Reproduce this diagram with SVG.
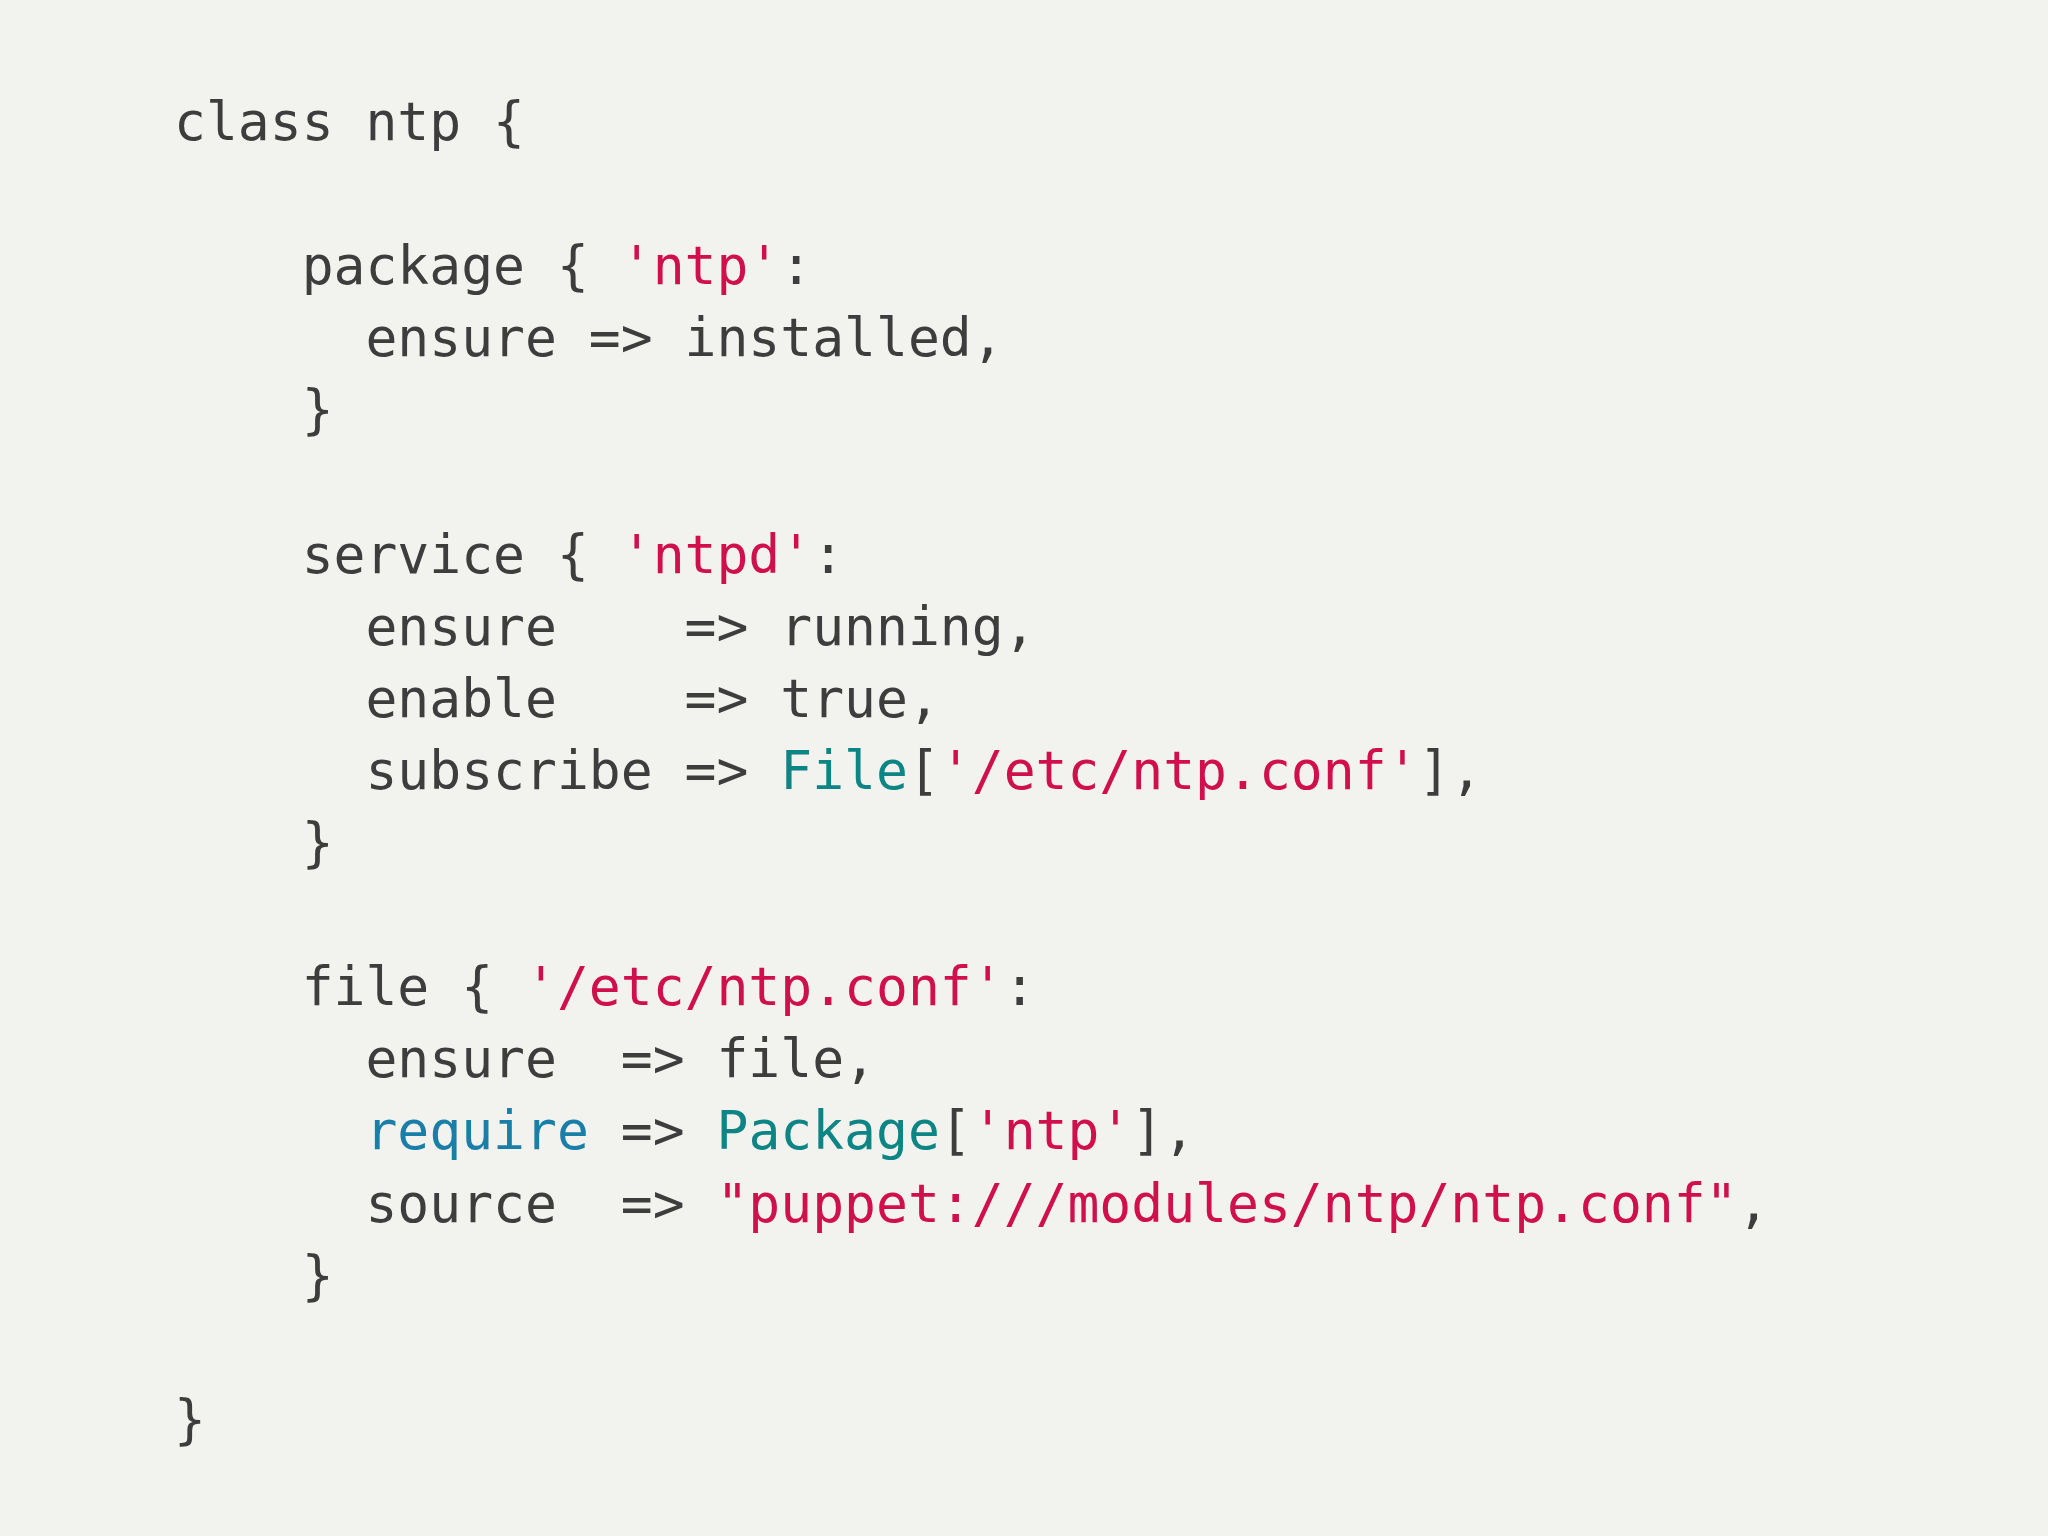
<svg xmlns="http://www.w3.org/2000/svg" width="2048" height="1536" viewBox="0 0 2048 1536">
<style>
text{font-family:"DejaVu Sans Mono","Liberation Mono",monospace;font-size:53px;fill:#3d3d3d;white-space:pre}
.s{fill:#d0104c}.t{fill:#0e8585}.b{fill:#1a7fa8}
</style>
<rect width="2048" height="1536" fill="#f2f2ee"/>
<g id="code">
<text x="174" y="140">class ntp {</text>
<text x="174" y="284">    package { <tspan class="s">'ntp'</tspan>:</text>
<text x="174" y="356">      ensure =&gt; installed,</text>
<text x="174" y="428">    }</text>
<text x="174" y="573">    service { <tspan class="s">'ntpd'</tspan>:</text>
<text x="174" y="645">      ensure    =&gt; running,</text>
<text x="174" y="717">      enable    =&gt; true,</text>
<text x="174" y="789">      subscribe =&gt; <tspan class="t">File</tspan>[<tspan class="s">'/etc/ntp.conf'</tspan>],</text>
<text x="174" y="861">    }</text>
<text x="174" y="1005">    file { <tspan class="s">'/etc/ntp.conf'</tspan>:</text>
<text x="174" y="1077">      ensure  =&gt; file,</text>
<text x="174" y="1149">      <tspan class="b">require</tspan> =&gt; <tspan class="t">Package</tspan>[<tspan class="s">'ntp'</tspan>],</text>
<text x="174" y="1222">      source  =&gt; <tspan class="s">"puppet:///modules/ntp/ntp.conf"</tspan>,</text>
<text x="174" y="1294">    }</text>
<text x="174" y="1438">}</text>
</g>
</svg>
